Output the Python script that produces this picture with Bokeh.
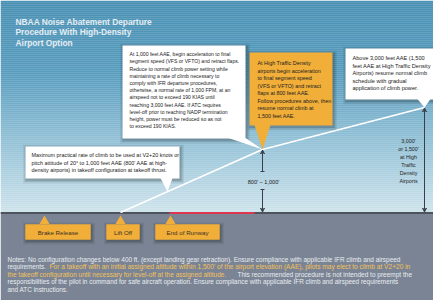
import numpy as np
from bokeh.plotting import figure
from bokeh.models import Range1d, Arrow, VeeHead, TeeHead
from bokeh.core.properties import value
from bokeh.embed import file_html
from bokeh.resources import INLINE

# ---------------- data ----------------
# flight path in diagram units: distance along runway, height above ground
path_x = [128, 270, 432]          # lift off, 800'-1,000' point, 3,000' point
path_h = [0, 63, 105]

runway_red_x = [177, 262]         # red runway segment
ground_marks = ["Brake Release", "Lift Off", "End of Runway"]
ground_mark_x = [52, 128, 178]

title_lines = ["NBAA Noise Abatement Departure",
               "Procedure With High-Density",
               "Airport Option"]

box1_lines = ["Maximum practical rate of climb to be used at V2+20 knots or",
              "pitch attitude of 20\u00b0 to 1,000 feet AAE (800' AAE at high-",
              "density airports) in takeoff configuration at takeoff thrust."]

box2_lines = ["At 1,000 feet AAE, begin acceleration to final",
              "segment speed (VFS or VFTO) and retract flaps.",
              "Reduce to normal climb power setting while",
              "maintaining a rate of climb necessary to",
              "comply with IFR departure procedures,",
              "otherwise, a normal rate of 1,000 FPM, at an",
              "airspeed not to exceed 190 KIAS until",
              "reaching 3,000 feet AAE. If ATC requires",
              "level-off prior to reaching NADP termination",
              "height, power must be reduced so as not",
              "to exceed 190 KIAS."]

box3_lines = ["At High Traffic Density",
              "airports begin acceleration",
              "to final segment speed",
              "(VFS or VFTO) and retract",
              "flaps at 800 feet AAE.",
              "Follow procedures above, then",
              "resume normal climb at",
              "1,500 feet AAE."]

box4_lines = ["Above 3,000 feet AAE (1,500",
              "feet AAE at High Traffic Density",
              "Airports) resume normal climb",
              "schedule with gradual",
              "application of climb power."]

arrow1_label = "800' \u2013 1,000'"
arrow2_lines = ["3,000'", "or 1,500'", "at High", "Traffic", "Density", "Airports"]

notes_lines = [
    [("Notes: No configuration changes below 400 ft. (except landing gear retraction). Ensure compliance with applicable IFR climb and airspeed", "w")],
    [("requirements. ", "w"),
     ("For a takeoff with an initial  assigned altitude within 1,500' of the airport elevation (AAE), pilots may elect to climb at V2+20 in", "y")],
    [("the takeoff configuration until necessary for level-off at the assigned altitude.", "y"),
     (" This recommended procedure is not intended to preempt the", "w")],
    [("responsibilities of the pilot in command for safe aircraft operation. Ensure compliance with applicable IFR climb and airspeed requirements", "w")],
    [("and ATC instructions.", "w")],
]

# ---------------- styles ----------------
FONT = value("Liberation Sans")
SKY_STOPS_Y = [8, 80, 150, 220]
SKY_STOPS_C = [(72, 144, 179), (88, 156, 190), (148, 194, 215), (206, 227, 236)]
GROUND = "#7a8494"
GROUND_LINE = "#4e545d"
RED = "#e0354f"
ORANGE = "#f1ae38"
DARK = "#222222"
ARROW_C = "#3a3f47"
NOTE_W = "#e9edf1"
NOTE_Y = "#f2c25c"

def H(sy):
    return 220 - sy

p = figure(width=433, height=300, x_range=Range1d(8, 441), y_range=Range1d(-88, 212),
           output_backend="svg", toolbar_location=None, min_border=0,
           x_axis_location=None, y_axis_location=None)
p.grid.visible = False
p.outline_line_color = None
p.background_fill_color = "white"
p.border_fill_color = "white"

# sky gradient
ys = np.arange(8, 220, 2.0)
cols = []
for y in ys:
    c = [int(round(np.interp(y + 1, SKY_STOPS_Y, [s[k] for s in SKY_STOPS_C]))) for k in range(3)]
    cols.append("#%02x%02x%02x" % tuple(c))
p.quad(left=8, right=441, top=[H(y) for y in ys], bottom=[H(y + 2.2) for y in ys],
       fill_color=cols, line_color=None)

# ground
p.quad(left=8, right=441, top=0, bottom=-88, fill_color=GROUND, line_color=None)
p.segment(x0=8, y0=-0.5, x1=441, y1=-0.5, line_color=GROUND_LINE, line_width=2.2)
p.segment(x0=runway_red_x[0], y0=-0.5, x1=runway_red_x[1], y1=-0.5, line_color=RED, line_width=2.2)

# flight path
p.line(path_x, path_h, line_color="white", line_width=1.6)

# ---- callout boxes ----
def shadow(l, r, t, b):
    for k, a in [(3.5, 0.06), (2.2, 0.09), (1.0, 0.13)]:
        p.quad(left=l - k + 1, right=r + k + 1, top=t + k - 1.5, bottom=b - k - 1.5,
               fill_color="black", fill_alpha=a, line_color=None)

def callout(l, r, t, b, tail_base, tail_tip, color):
    shadow(l, r, t, b)
    p.quad(left=l, right=r, top=t, bottom=b, fill_color=color, line_color=None)
    xs = [tail_base[0], tail_base[1], tail_tip[0]]
    yb = tail_base[2]
    p.patch(xs, [yb + 0.5, yb + 0.5, tail_tip[1]], fill_color=color, line_color=None)

slope0 = (path_h[1] - path_h[0]) / (path_x[1] - path_x[0])
# box1 (white)
callout(33, 187, H(154), H(186), (168, 180, H(186)), (175, path_h[0] + (175 - path_x[0]) * slope0), "white")
# box2 (white)
callout(130, 253, H(53), H(146), (236, 253, H(146)), (path_x[1], path_h[1]), "white")
# box3 (orange)
callout(257, 340, H(60), H(133), (262, 278, H(133)), (path_x[1], path_h[1]), ORANGE)
# box4 (white)
callout(353, 445, H(56), H(107), (425, 438, H(107)), (path_x[2], path_h[2]), "white")

def text_block(lines, x, y0, step, size, color=DARK, align="left", style="normal"):
    p.text(x=[x] * len(lines), y=[y0 - step * i for i in range(len(lines))], text=lines,
           text_font=FONT, text_font_size=size, text_color=color,
           text_baseline="middle", text_align=align, text_font_style=style)

text_block(title_lines, 23, H(29.5), 10.3, "8.4px", color="#e4edf3", style="bold")
text_block(box1_lines, 39, H(162.7), 7.5, "5.45px")
text_block(box2_lines, 137, H(61.7), 7.2, "5.1px")
text_block(box3_lines, 265, H(70.7), 7.5, "5.4px")
text_block(box4_lines, 360, H(65.5), 7.5, "5.6px")

# ---- height arrows ----
def vee():
    return VeeHead(size=4, line_color=ARROW_C, fill_color=ARROW_C, line_width=1)

def tee():
    return TeeHead(size=4, line_color=ARROW_C, line_width=1)

p.add_layout(Arrow(start=tee(), end=vee(), x_start=path_x[1], y_start=H(179), x_end=path_x[1], y_end=path_h[1] - 0.5,
                   line_color=ARROW_C, line_width=1))
p.add_layout(Arrow(start=tee(), end=vee(), x_start=path_x[1], y_start=H(197), x_end=path_x[1], y_end=0.5,
                   line_color=ARROW_C, line_width=1))
p.text(x=[path_x[1] + 1], y=[H(189)], text=[arrow1_label], text_font=FONT, text_font_size="5.6px",
       text_color=DARK, text_align="center", text_baseline="middle")

p.add_layout(Arrow(start=vee(), end=vee(), x_start=path_x[2], y_start=0.5, x_end=path_x[2], y_end=path_h[2] - 0.5,
                   line_color=ARROW_C, line_width=1))
text_block(arrow2_lines, 416, H(148), 8.1, "5.3px", align="center")

# ---- ground labels ----
gbox_l = [33, 114, 163]
gbox_r = [98, 147, 227]
for i, name in enumerate(ground_marks):
    callout(gbox_l[i], gbox_r[i], H(232), H(247), (ground_mark_x[i] - 5, ground_mark_x[i] + 5, H(232)),
            (ground_mark_x[i], H(223)), ORANGE)
p.quad(left=gbox_l, right=gbox_r, top=H(232), bottom=H(247), fill_color=ORANGE, line_color=None)
p.text(x=[(a + b) / 2 for a, b in zip(gbox_l, gbox_r)], y=[H(239.5)] * 3, text=ground_marks,
       text_font=FONT, text_font_size="6.2px", text_color="#3a3226",
       text_align="center", text_baseline="middle")

# ---- notes ----
note_y = [H(266.7), H(274.3), H(281.7), H(289), H(296.7)]
note_split_x = {1: 57, 2: 245}
note_size = ["6.45px", "6.58px", "6.5px", "6.4px", "6.4px"]
for i, parts in enumerate(notes_lines):
    x = 15
    for j, (t, c) in enumerate(parts):
        if j == 1:
            x = note_split_x[i]
        size = "6.3px" if (i == 1 and j == 0) else note_size[i]
        p.text(x=[x], y=[note_y[i]], text=[t], text_font=FONT, text_font_size=size,
               text_color=NOTE_W if c == "w" else NOTE_Y, text_baseline="middle", text_align="left")

open("out.html", "w").write(file_html(p, INLINE))
